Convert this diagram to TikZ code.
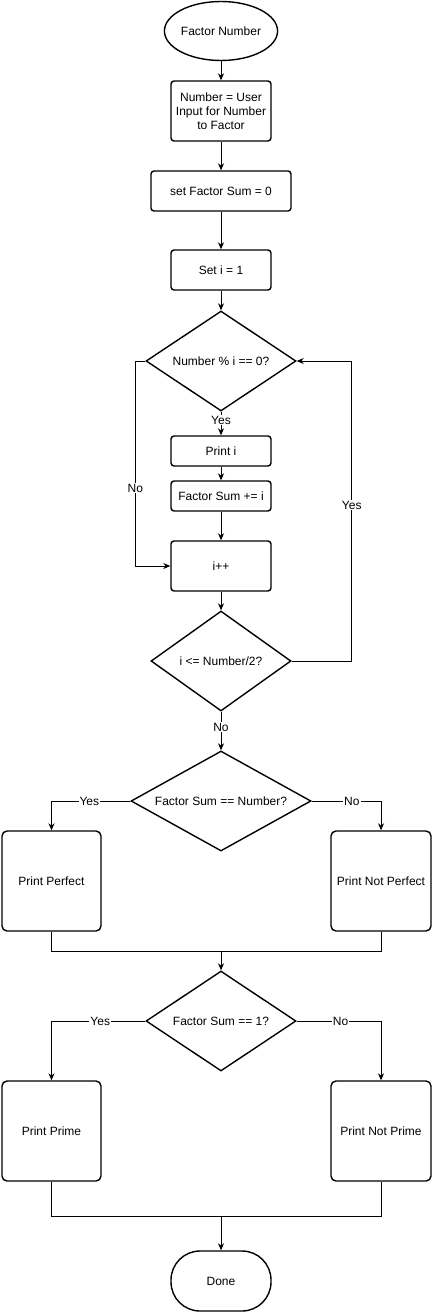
\documentclass[tikz,border=0pt]{standalone}
\usepackage{fontspec}
\setmainfont{Liberation Sans}
\usetikzlibrary{arrows.meta,positioning,shapes.geometric}

\begin{document}
\begin{tikzpicture}[x=1pt,y=-1pt,font=\fontsize{12}{14}\selectfont,
    box/.style={draw,line width=1.4pt,rounded corners=3pt,inner sep=0pt,align=center},
    cond/.style={draw,diamond,line width=1.4pt,inner sep=0pt,shape aspect=2},
    flow/.style={-{Stealth[length=7pt,width=6pt]},line width=0.8pt},
    lbl/.style={fill=white,inner sep=1pt}]
    \useasboundingbox (0,0) rectangle (433,1313);
    \node[draw,ellipse,line width=1.4pt,inner sep=0pt,minimum width=100pt,minimum height=59pt] (start) at (221,31) {Factor Number};
    \node[box,minimum width=100pt,minimum height=60pt] (input) at (221,111) {Number = User\\Input for Number\\to Factor};
    \node[box,minimum width=140pt,minimum height=40pt] (setsum) at (221,191) {set Factor Sum = 0};
    \node[box,minimum width=100pt,minimum height=40pt] (seti) at (221,270) {Set i = 1};
    \node[cond,minimum width=150pt,minimum height=100pt] (modchk) at (221,361) {Number \% i == 0?};
    \node[box,minimum width=100pt,minimum height=30pt] (printi) at (221,451) {Print i};
    \node[box,minimum width=100pt,minimum height=30pt] (addsum) at (221,496) {Factor Sum += i};
    \node[box,minimum width=100pt,minimum height=50pt] (incr) at (221,566) {i++};
    \node[cond,minimum width=140pt,minimum height=100pt] (loopchk) at (221,661) {i <= Number/2?};
    \node[cond,minimum width=180pt,minimum height=100pt] (perfchk) at (221,801) {Factor Sum == Number?};
    \node[box,rounded corners=5pt,minimum width=99pt,minimum height=100pt] (perfect) at (51.5,881) {Print Perfect};
    \node[box,rounded corners=5pt,minimum width=100pt,minimum height=100pt] (notperf) at (381,881) {Print Not Perfect};
    \node[cond,minimum width=150pt,minimum height=100pt] (primechk) at (221,1021) {Factor Sum == 1?};
    \node[box,rounded corners=5pt,minimum width=99pt,minimum height=100pt] (prime) at (51.5,1131) {Print Prime};
    \node[box,rounded corners=5pt,minimum width=100pt,minimum height=100pt] (notprime) at (381,1131) {Print Not Prime};
    \node[box,rounded corners=29pt,minimum width=100pt,minimum height=60pt] (done) at (221,1281) {Done};
    \coordinate (join1) at (221,951);
    \coordinate (join2) at (221,1216);

    \draw[flow] (start) -- (input);
    \draw[flow] (input) -- (setsum);
    \draw[flow] (setsum) -- (seti);
    \draw[flow] (seti) -- (modchk);
    \draw[flow] (modchk) -- node[lbl,pos=0.35] {Yes} (printi);
    \draw[flow] (printi) -- (addsum);
    \draw[flow] (addsum) -- (incr);
    \draw[flow] (modchk.west) -- ++(-10,0) |- node[lbl,pos=0.31] {No} (incr.west);
    \draw[flow] (incr) -- (loopchk);
    \draw[flow] (loopchk.east) -- ++(60,0) |- node[lbl,pos=0.26] {Yes} (modchk.east);
    \draw[flow] (loopchk) -- node[lbl,pos=0.4] {No} (perfchk);
    \draw[flow] (perfchk.west) -| node[lbl,pos=0.26] {Yes} (perfect);
    \draw[flow] (perfchk.east) -| node[lbl,pos=0.29] {No} (notperf);
    \draw[line width=0.8pt] (perfect) |- (join1) -| (notperf);
    \draw[flow] (join1) -- (primechk);
    \draw[flow] (primechk.west) -| node[lbl,pos=0.24] {Yes} (prime);
    \draw[flow] (primechk.east) -| node[lbl,pos=0.26] {No} (notprime);
    \draw[line width=0.8pt] (prime) |- (join2) -| (notprime);
    \draw[flow] (join2) -- (done);
\end{tikzpicture}
\end{document}
